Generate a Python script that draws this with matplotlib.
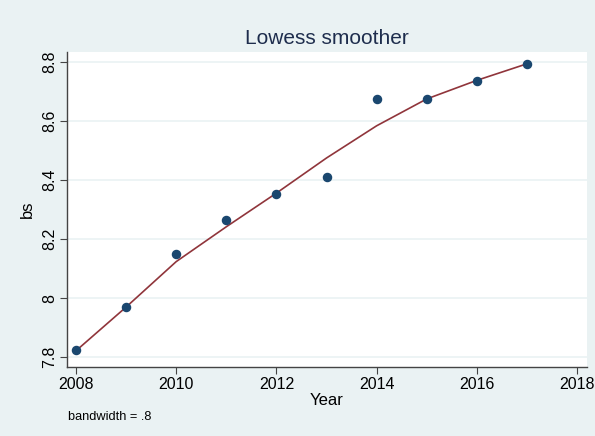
import matplotlib.pyplot as plt

plt.rcParams["font.family"] = ["Liberation Sans", "DejaVu Sans"]

years = [2008, 2009, 2010, 2011, 2012, 2013, 2014, 2015, 2016, 2017]
bs = [7.825, 7.971, 8.149, 8.264, 8.354, 8.412, 8.676, 8.675, 8.736, 8.794]
# lowess fit (bandwidth .8)
bs_smooth = [7.822, 7.970, 8.124, 8.242, 8.356, 8.475, 8.584, 8.675, 8.738, 8.794]

xticks = [2008, 2010, 2012, 2014, 2016, 2018]
yticks = [7.8, 8.0, 8.2, 8.4, 8.6, 8.8]
ytick_labels = ["7.8", "8", "8.2", "8.4", "8.6", "8.8"]

bg = "#eaf2f3"
fig = plt.figure(figsize=(5.95, 4.36), dpi=100, facecolor=bg)
ax = fig.add_axes([0.1126, 0.1583, 0.874, 0.7224])
ax.set_facecolor("white")

ax.grid(axis="y", color=bg, linewidth=1.2)
ax.set_axisbelow(True)
ax.scatter(years, bs, s=34, color="#1a476f", zorder=3)
ax.plot(years, bs_smooth, color="#90353b", linewidth=1.2, zorder=2)

ax.set_xlim(2007.82, 2018.2)
ax.set_ylim(7.767, 8.834)
ax.set_xticks(xticks)
ax.set_yticks(yticks)
ax.set_yticklabels(ytick_labels, rotation=90, va="center")
ax.tick_params(labelsize=11.5, length=5, pad=2, color="#444444", labelcolor="black")

for side in ["top", "right"]:
    ax.spines[side].set_visible(False)
for side in ["left", "bottom"]:
    ax.spines[side].set_color("#444444")
    ax.spines[side].set_linewidth(1.0)

ax.set_xlabel("Year", fontsize=12, labelpad=1)
ax.set_ylabel("bs", fontsize=12, labelpad=5)
ax.set_title("Lowess smoother", fontsize=15, color="#1e2d4d", pad=6)
fig.text(0.114, 0.036, "bandwidth = .8", fontsize=9.2, ha="left")

fig.savefig("out.png", dpi=100, facecolor=bg)
